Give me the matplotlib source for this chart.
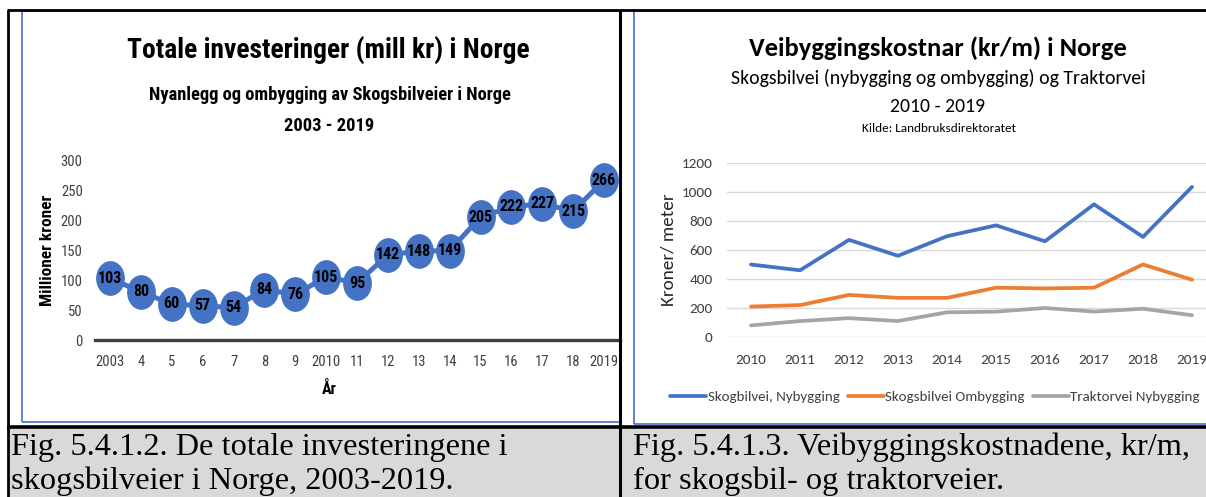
import matplotlib
matplotlib.use("Agg")
import matplotlib.pyplot as plt
from matplotlib import font_manager
from matplotlib.path import Path
from matplotlib.transforms import Affine2D
from matplotlib.lines import Line2D
import matplotlib.patches as mpatches

# ---------------- data ----------------
inv_years = ["2003", "4", "5", "6", "7", "8", "9", "2010", "11", "12", "13", "14",
             "15", "16", "17", "18", "2019"]
inv_values = [103, 80, 60, 57, 54, 84, 76, 105, 95, 142, 148, 149, 205, 222, 227, 215, 266]

cost_years = ["2010", "2011", "2012", "2013", "2014", "2015", "2016", "2017", "2018", "2019"]
skogbil_ny = [500, 460, 670, 560, 695, 770, 660, 915, 690, 1035]
skogbil_om = [210, 220, 290, 270, 270, 340, 335, 340, 500, 395]
traktor_ny = [80, 110, 130, 110, 170, 175, 200, 175, 195, 150]
cost_series_names = ["Skogbilvei, Nybygging", "Skogsbilvei Ombygging", "Traktorvei Nybygging"]

W, H = 1206, 497
DPI = 100

names = {f.name for f in font_manager.fontManager.ttflist}
def pick(*cands):
    for c in cands:
        if c in names:
            return c
    return "DejaVu Sans"

NARROW = pick("Liberation Sans Narrow", "Roboto Condensed", "Liberation Sans")
CAL = pick("Carlito", "Lato", "Open Sans")
SERIF = pick("Liberation Serif", "DejaVu Serif")

fig = plt.figure(figsize=(W / DPI, H / DPI), dpi=DPI)
fig.patch.set_facecolor("white")

def fx(x):
    return x / W
def fy(y):
    return 1 - y / H
def rect(x0, y0, x1, y1):
    return [x0 / W, 1 - y1 / H, (x1 - x0) / W, (y1 - y0) / H]
def fline(xs, ys, color, lw, z=5):
    fig.add_artist(Line2D([fx(v) for v in xs], [fy(v) for v in ys], color=color,
                          lw=lw, transform=fig.transFigure, zorder=z,
                          solid_capstyle="butt"))

# ---------------- table frame ----------------
fig.patches.append(mpatches.Rectangle((fx(8), fy(497)), fx(1206 - 8), (497 - 428) / H,
                                      transform=fig.transFigure, facecolor="#D9D9D9",
                                      edgecolor="none", zorder=0))
BLUE_FRAME = "#4F7BD0"
# left chart frame (right edge hidden behind the cell border)
fline([22, 619], [11, 11], BLUE_FRAME, 1.3, 1)
fline([22, 22], [11, 421.5], BLUE_FRAME, 1.3, 1)
fline([22, 619], [421.5, 421.5], BLUE_FRAME, 1.3, 1)
# right chart frame
fline([634, 1206], [11, 11], BLUE_FRAME, 1.3, 1)
fline([634, 634], [11, 424], BLUE_FRAME, 1.3, 1)
fline([634, 1206], [424, 424], BLUE_FRAME, 1.3, 1)
# black table lines
fline([7, 1206], [9.5, 9.5], "black", 2.0)
fline([7.5, 7.5], [9.5, 497], "black", 2.0)
fline([620, 620], [9.5, 497], "black", 2.2)
fline([7, 1206], [427, 427], "black", 2.6)

# ---------------- left chart ----------------
axL = fig.add_axes(rect(94.6, 160, 619.5, 340))
axL.set_facecolor("none")
xs = list(range(len(inv_years)))
ell = Path(Affine2D().scale(0.82, 1.0).transform(Path.unit_circle().vertices),
           Path.unit_circle().codes)
axL.plot(xs, inv_values, color="#4472C4", lw=3.6, marker=ell, markersize=24,
         markerfacecolor="#4472C4", markeredgecolor="#4472C4", clip_on=False, zorder=3)
for x, v in zip(xs, inv_values):
    axL.text(x, v, str(v), ha="center", va="center", fontsize=11.5, fontweight="bold",
             family=NARROW, color="black", zorder=4)
axL.set_xlim(-0.5, len(inv_years) - 0.5)
axL.set_ylim(0, 300)
axL.set_yticks(range(0, 301, 50))
axL.set_xticks(xs)
axL.set_xticklabels(inv_years)
for s in ["left", "right", "top"]:
    axL.spines[s].set_visible(False)
axL.spines["bottom"].set_color("#404040")
axL.spines["bottom"].set_linewidth(2.4)
axL.tick_params(axis="both", length=0, labelsize=10.5, labelcolor="#404040")
axL.tick_params(axis="y", pad=8.5)
axL.tick_params(axis="x", pad=11)
for lab in axL.get_xticklabels() + axL.get_yticklabels():
    lab.set_family(NARROW)
fig.text(fx(48), fy(250), "Millioner kroner", rotation=90, ha="center", va="center",
         fontsize=12.5, fontweight="bold", family=NARROW, color="black")
fig.text(fx(329), fy(389), "År", ha="center", va="center", fontsize=11.5,
         fontweight="bold", family=NARROW, color="black")
fig.text(fx(328), fy(50), "Totale investeringer (mill kr) i Norge", ha="center", va="center",
         fontsize=19.8, fontweight="bold", family=NARROW, color="black")
fig.text(fx(330), fy(95), "Nyanlegg og ombygging av Skogsbilveier i Norge", ha="center",
         va="center", fontsize=13.3, fontweight="bold", family=NARROW, color="black")
fig.text(fx(329), fy(126), "2003 - 2019", ha="center", va="center", fontsize=13.3,
         fontweight="bold", family=NARROW, color="black")

# ---------------- right chart ----------------
axR = fig.add_axes(rect(726.5, 163, 1216.5, 337))
axR.set_facecolor("none")
xr = list(range(len(cost_years)))
colors = ["#4472C4", "#ED7D31", "#A5A5A5"]
handles = []
for vals, c, nm in zip([skogbil_ny, skogbil_om, traktor_ny], colors, cost_series_names):
    h, = axR.plot(xr, vals, color=c, lw=2.7, solid_capstyle="round", label=nm, zorder=3)
    handles.append(h)
axR.set_xlim(-0.5, len(cost_years) - 0.5)
axR.set_ylim(0, 1200)
axR.set_yticks(range(0, 1201, 200))
axR.set_xticks(xr)
axR.set_xticklabels(cost_years)
for s in axR.spines.values():
    s.set_visible(False)
axR.grid(axis="y", color="#D9D9D9", lw=1.0)
axR.set_axisbelow(True)
axR.tick_params(axis="both", length=0, labelsize=11, labelcolor="#404040")
axR.tick_params(axis="y", pad=10)
axR.tick_params(axis="x", pad=12)
for lab in axR.get_xticklabels() + axR.get_yticklabels():
    lab.set_family(CAL)
fig.text(fx(669), fy(250), "Kroner/ meter", rotation=90, ha="center", va="center",
         fontsize=13.8, family=CAL, color="#262626")
fig.text(fx(938), fy(48), "Veibyggingskostnar (kr/m) i Norge", ha="center", va="center",
         fontsize=19.1, fontweight="bold", family=CAL, color="black")
fig.text(fx(938), fy(78), "Skogsbilvei (nybygging og ombygging) og Traktorvei", ha="center",
         va="center", fontsize=14.2, family=CAL, color="black")
fig.text(fx(938), fy(106), "2010 - 2019", ha="center", va="center", fontsize=14.2,
         family=CAL, color="black")
fig.text(fx(939), fy(129), "Kilde: Landbruksdirektoratet", ha="center", va="center",
         fontsize=9.5, family=CAL, color="black")
leg = fig.legend(handles=handles, labels=cost_series_names, loc="center",
                 bbox_to_anchor=(fx(935), fy(397)), ncol=3, frameon=False,
                 prop={"family": CAL, "size": 10.8}, handlelength=2.4,
                 handletextpad=0.1, columnspacing=0.55, borderpad=0)
for t in leg.get_texts():
    t.set_color("#404040")

# ---------------- captions ----------------
cap_kw = dict(ha="left", va="center", fontsize=23.3, family=SERIF, color="black")
fig.text(fx(11), fy(447), "Fig. 5.4.1.2. De totale investeringene i", **cap_kw)
fig.text(fx(11), fy(481), "skogsbilveier i Norge, 2003-2019.", **cap_kw)
fig.text(fx(633), fy(447), "Fig. 5.4.1.3. Veibyggingskostnadene, kr/m,", **cap_kw)
fig.text(fx(633), fy(481), "for skogsbil- og traktorveier.", **cap_kw)

fig.savefig("out.png", dpi=DPI, facecolor="white")
